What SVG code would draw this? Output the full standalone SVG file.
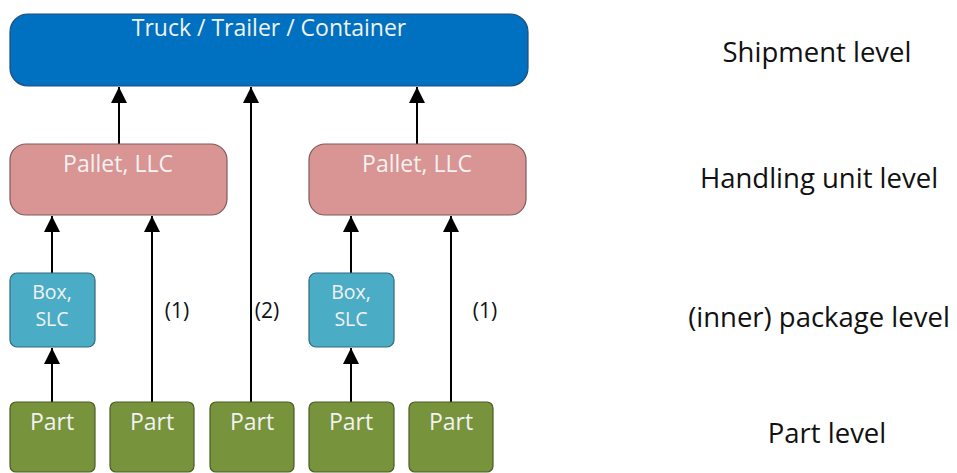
<svg xmlns="http://www.w3.org/2000/svg" width="957" height="473" viewBox="0 0 957 473">
<style>
.node{stroke-width:1.2}
.ship{fill:#0070c0;stroke:#1f4e79}
.pal{fill:#d99594;stroke:#7f5a5a}
.box{fill:#4bacc6;stroke:#2e6b7c}
.part{fill:#77933c;stroke:#4a5c25}
.nt{font-family:"Open Sans","Liberation Sans",sans-serif;font-size:23px;fill:#f2f2f2;text-anchor:middle}
.bt{font-size:19.5px}
.lv{font-family:"Open Sans","Liberation Sans",sans-serif;font-size:27.5px;fill:#111;text-anchor:middle}
.lb{font-family:"Open Sans","Liberation Sans",sans-serif;font-size:21px;fill:#111;text-anchor:middle}
.c{stroke:#000;stroke-width:2;fill:none;marker-end:url(#ah)}
</style>
<defs>
<marker id="ah" markerUnits="userSpaceOnUse" markerWidth="18" markerHeight="16" refX="16" refY="8" orient="auto">
<path d="M0,0 L16,8 L0,16 Z" fill="#000"/>
</marker>
</defs>
<rect width="957" height="473" fill="#fff"/>
<g id="connectors">
<line class="c" x1="119" y1="144" x2="119" y2="87"/>
<line class="c" x1="251" y1="402" x2="251" y2="87"/>
<line class="c" x1="417" y1="144" x2="417" y2="87"/>
<line class="c" x1="52" y1="273" x2="52" y2="216"/>
<line class="c" x1="152" y1="402" x2="152" y2="216"/>
<line class="c" x1="351" y1="273" x2="351" y2="216"/>
<line class="c" x1="451" y1="402" x2="451" y2="216"/>
<line class="c" x1="52" y1="402" x2="52" y2="348"/>
<line class="c" x1="351" y1="402" x2="351" y2="348"/>
<text class="lb" x="177" y="318">(1)</text>
<text class="lb" x="267" y="318">(2)</text>
<text class="lb" x="485" y="318">(1)</text>
</g>
<g id="shipment"><rect class="node ship" x="10" y="14" width="518" height="72" rx="18"/><text class="nt" x="269" y="36">Truck / Trailer / Container</text></g>
<g id="pallet1"><rect class="node pal" x="10" y="144" width="217" height="71" rx="16"/><text class="nt" x="118" y="172">Pallet, LLC</text></g>
<g id="pallet2"><rect class="node pal" x="309" y="144" width="217" height="71" rx="16"/><text class="nt" x="417" y="172">Pallet, LLC</text></g>
<g id="box1"><rect class="node box" x="10" y="273" width="85" height="74" rx="7"/><text class="nt bt" x="52" y="299">Box,</text><text class="nt bt" x="52" y="326">SLC</text></g>
<g id="box2"><rect class="node box" x="309" y="273" width="85" height="74" rx="7"/><text class="nt bt" x="351" y="299">Box,</text><text class="nt bt" x="351" y="326">SLC</text></g>
<g id="part1"><rect class="node part" x="10" y="402" width="85" height="70" rx="6"/><text class="nt" x="52" y="430">Part</text></g>
<g id="part2"><rect class="node part" x="110" y="402" width="84" height="70" rx="6"/><text class="nt" x="152" y="430">Part</text></g>
<g id="part3"><rect class="node part" x="210" y="402" width="84" height="70" rx="6"/><text class="nt" x="252" y="430">Part</text></g>
<g id="part4"><rect class="node part" x="309" y="402" width="85" height="70" rx="6"/><text class="nt" x="351" y="430">Part</text></g>
<g id="part5"><rect class="node part" x="409" y="402" width="84" height="70" rx="6"/><text class="nt" x="451" y="430">Part</text></g>
<g id="levels">
<text class="lv" x="817" y="62">Shipment level</text>
<text class="lv" x="819" y="188">Handling unit level</text>
<text class="lv" x="819" y="327">(inner) package level</text>
<text class="lv" x="827" y="443">Part level</text>
</g>
</svg>
